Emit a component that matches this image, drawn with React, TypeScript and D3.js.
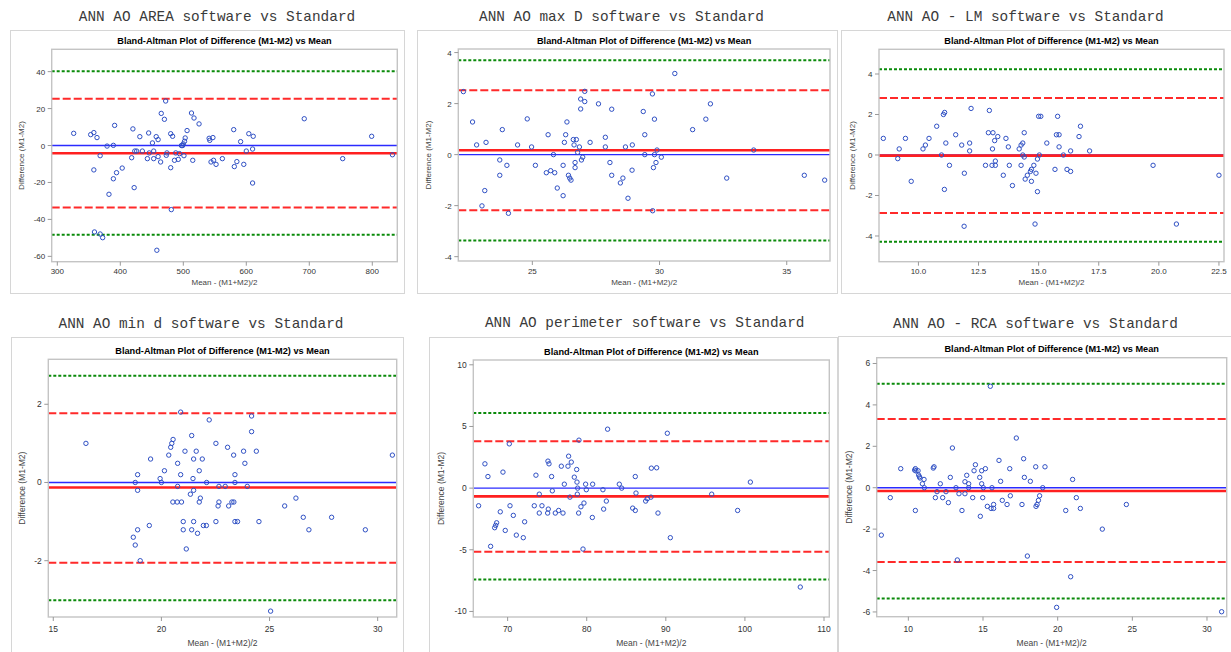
import { useEffect, useRef } from 'react'
import * as d3 from 'd3'

// mean (x) / difference (y) pairs
const areaPoints = [[326,6.6],[353,5.9],[358,7],[363,4.3],[358,-13.2],[368,-5.5],[379,-0.3],[389,0.1],[391,10.9],[389,-18],[394,-14.7],[382,-26.4],[403,-12.2],[359,-46.8],[368,-47.9],[372,-49.9],[418,-6.6],[420,9],[422,-22.8],[423,-3],[426,-3],[431,4.8],[435,-3],[443,-7.1],[445,6.8],[446,-4],[451,1.4],[453,-3],[453,-7.1],[457,4.8],[460,3.2],[460,-6],[464,-8.9],[465,17.4],[470,14.2],[472,24.1],[473,-5.3],[474,-4],[480,6.4],[480,-12],[483,5],[481,-34.7],[486,-8],[488,-4],[492,-7.5],[494,-4.4],[497,0],[499,0],[500,0.9],[501,-5.5],[502,2.3],[503,4.1],[506,8.1],[458,-56.7],[513,17.6],[517,14.9],[515,-8],[525,11.7],[541,3.9],[542,2.8],[547,4.3],[544,-8.9],[548,-8],[552,-10.2],[562,-7.1],[580,8.6],[581,-11.4],[585,-8.7],[591,2.1],[596,-10.2],[600,-3],[604,6.4],[611,5],[610,-1.9],[610,-20.3],[692,14.5],[753,-7.1],[799,5],[832,-5]]
const maxDPoints = [[22.29,2.47],[22.65,1.28],[22.81,0.38],[23.18,0.48],[23.13,-1.41],[23.02,-2.01],[23.72,-0.21],[23.72,-0.81],[23.82,0.98],[24.0,-0.42],[24.06,-2.3],[24.42,0.38],[24.8,1.4],[24.97,0.3],[25.12,-0.42],[25.55,-0.71],[25.62,0.78],[25.72,-0.63],[25.83,0],[25.88,-0.71],[25.98,-1.31],[26.21,-0.42],[26.21,-1.61],[26.26,0.48],[26.31,0.78],[26.36,1.28],[26.42,-0.81],[26.47,-0.92],[26.52,-1.0],[26.61,0.59],[26.64,0.38],[26.68,-0.31],[26.68,-0.51],[26.73,0.59],[26.78,0.09],[26.85,0.3],[26.9,1.79],[26.9,2.18],[26.93,-0.21],[26.98,-0.1],[27.06,2.08],[27.06,2.48],[27.27,0.48],[27.6,1.99],[27.87,0.68],[27.87,0.3],[28.05,-0.31],[28.12,1.78],[28.12,-0.81],[28.46,-1.11],[28.56,-0.92],[28.66,0.3],[28.76,-1.71],[28.93,0.38],[28.92,-0.61],[29.36,1.69],[29.42,0.78],[29.42,0],[29.72,2.38],[29.8,1.39],[29.76,-0.51],[29.73,-2.2],[29.8,0],[29.86,-0.31],[29.9,0.18],[30.07,-0.1],[30.6,3.18],[31.3,0.98],[31.82,1.39],[32.0,1.99],[32.64,-0.92],[33.7,0.18],[35.69,-0.81],[36.49,-1.0]]
const lmPoints = [[8.54,0.82],[9.14,-0.18],[9.2,0.3],[9.46,0.82],[9.7,-1.3],[10.19,0.3],[10.29,0.49],[10.44,0.82],[10.76,1.42],[10.96,0],[11.04,2.0],[11.09,2.1],[11.14,0.59],[11.08,-1.7],[11.29,-0.51],[11.55,1.0],[11.8,0.49],[11.91,-0.9],[11.9,-3.52],[12.13,0.59],[12.13,0.2],[12.19,2.3],[12.79,-0.51],[12.91,1.1],[12.95,2.2],[13.1,1.1],[13.08,0.3],[13.06,-0.51],[13.17,0.71],[13.2,-0.3],[13.2,-0.51],[13.3,0.91],[13.53,-1.0],[13.64,0.82],[13.74,0.4],[13.78,-0.51],[13.91,-1.51],[14.19,0.3],[14.27,-0.51],[14.27,0.49],[14.34,0.59],[14.34,0],[14.4,1.1],[14.4,-0.1],[14.44,-1.19],[14.53,-1.0],[14.66,-0.81],[14.7,-0.71],[14.7,-1.3],[14.8,-0.51],[14.89,-0.9],[14.95,-0.2],[14.95,-1.81],[14.85,-3.41],[15.0,1.91],[15.09,1.91],[15.03,0],[15.34,0.59],[15.68,-0.71],[15.74,1.0],[15.85,1.0],[15.79,1.91],[15.85,0.4],[16.03,0],[16.18,-0.71],[16.33,-0.81],[16.33,0.2],[16.68,0.91],[16.74,1.42],[17.12,0.2],[19.76,-0.51],[20.73,-3.41],[22.5,-1.0]]
const minDPoints = [[16.51,1.0],[18.7,-1.4],[18.79,-1.6],[18.79,0],[18.9,0.2],[18.9,-0.2],[18.9,-1.21],[19.02,-2.0],[19.44,-1.1],[19.5,0.6],[19.94,0.1],[20.0,0],[20.14,0.3],[20.34,0.7],[20.43,0.9],[20.48,1.0],[20.54,1.1],[20.53,-0.5],[20.73,-0.5],[20.75,0.49],[20.75,-0.1],[20.89,1.8],[20.89,0.2],[20.93,-0.5],[21.01,-1.0],[21.01,-1.21],[21.09,0.8],[21.15,-1.7],[21.34,-0.3],[21.4,1.2],[21.4,-1.21],[21.46,0.1],[21.49,0.6],[21.49,-0.2],[21.49,-1.0],[21.61,0.8],[21.67,-1.3],[21.75,0.3],[21.75,-0.5],[21.8,-0.4],[21.89,0.6],[21.94,-1.1],[22.08,-1.1],[22.09,0],[22.21,1.6],[22.52,1.0],[22.52,-1.0],[22.62,-0.6],[22.66,-0.1],[22.66,-0.5],[22.95,-0.1],[23.06,0.9],[23.11,-0.6],[23.26,-0.5],[23.34,0.7],[23.35,-0.5],[23.4,0.2],[23.4,0],[23.4,-1.0],[23.52,-1.0],[23.8,0.8],[23.86,0.49],[23.97,-0.1],[24.17,1.7],[24.17,1.3],[24.39,0.8],[24.51,-1.0],[25.05,-3.29],[25.7,-0.6],[26.22,-0.4],[26.56,-0.89],[26.82,-1.21],[27.87,-0.89],[29.43,-1.21],[30.68,0.7]]
const perimeterPoints = [[66.33,-1.43],[67.13,1.97],[67.51,0.94],[67.85,-4.72],[68.36,-3.21],[68.48,-3.02],[68.61,-2.81],[69.07,-1.92],[69.41,1.3],[69.7,-3.43],[70.21,3.59],[70.3,-1.43],[70.72,-2.21],[71.1,-3.81],[71.98,-4.02],[72.15,-2.73],[73.37,-1.43],[73.58,1.05],[74.0,-0.49],[74.0,-2.02],[74.34,-1.43],[75.1,2.19],[75.23,1.97],[75.14,-1.7],[75.06,-2.02],[75.56,0.94],[75.65,-0.22],[76.03,-2.02],[76.45,-1.81],[76.79,1.78],[77.0,-2.02],[77.17,0.32],[77.71,2.59],[77.63,1.78],[77.88,-0.73],[78.05,2.11],[78.43,0.89],[78.73,1.51],[78.77,0.49],[78.81,-0.49],[78.85,0],[79.02,3.89],[78.98,-2.02],[79.27,-1.51],[79.53,-4.94],[79.65,-1.21],[79.86,0.32],[79.95,-0.13],[80.75,0.32],[80.71,-2.38],[82.05,-0.13],[82.14,-1.7],[82.48,-1.05],[82.64,4.78],[84.12,0.32],[84.42,0],[85.81,-1.62],[86.14,-1.81],[86.14,0.94],[86.23,-0.4],[87.45,-1.05],[87.66,-0.86],[88.12,-0.73],[88.17,1.62],[88.84,1.65],[89.01,-2.02],[90.19,4.45],[90.57,-4.02],[95.8,-0.49],[99.08,-1.81],[100.69,0.49],[107.0,-8.02]]
const rcaPoints = [[8.19,-2.29],[8.79,-0.48],[9.49,0.92],[10.42,0.85],[10.47,0.92],[10.51,0.81],[10.65,0.82],[10.69,0.61],[10.74,0.53],[10.78,0.47],[11.05,0.4],[10.94,0.19],[11.07,0],[10.47,-1.1],[11.67,0.95],[11.72,1.01],[11.81,-0.48],[11.92,-0.19],[12.14,0.19],[12.3,-0.48],[12.52,-0.19],[12.68,-0.72],[12.81,0.5],[12.95,1.92],[13.19,0],[13.28,-3.49],[13.39,-0.29],[13.59,-1.1],[13.79,-0.29],[13.79,0.29],[13.91,0.6],[14.04,0.19],[14.04,0],[14.31,-0.48],[14.4,0.82],[14.49,1.11],[14.78,0.5],[14.82,-1.38],[14.91,0.19],[14.91,0.82],[14.98,-0.48],[15.02,0],[15.16,0.92],[15.29,-0.9],[15.49,4.9],[15.54,-1.0],[15.6,0],[15.71,-0.81],[15.71,-1.0],[16.07,1.32],[16.18,0.31],[16.29,-0.61],[16.61,-0.81],[16.79,0.92],[16.83,-0.39],[17.23,2.4],[17.61,-0.81],[17.72,1.4],[17.77,0.5],[17.97,-3.3],[18.17,0.31],[18.53,1.01],[18.55,-0.9],[18.62,-0.81],[18.71,-0.61],[18.79,-0.39],[19.0,0],[19.15,1.01],[19.93,-5.78],[20.54,-1.1],[21.0,0.4],[20.87,-4.3],[21.25,-0.48],[21.52,-1.0],[22.99,-2.0],[24.6,-0.81],[30.98,-5.99]]

// reference lines: [outer upper, upper limit, mean diff, lower limit, outer lower]
const areaLimits = [40.2, 25.3, -4.2, -33.5, -48.3]
const maxDLimits = [3.7, 2.52, 0.17, -2.18, -3.37]
const lmLimits = [4.24, 2.81, -0.03, -2.86, -4.28]
const minDLimits = [2.73, 1.77, -0.13, -2.05, -3.01]
const perimeterLimits = [6.1, 3.81, -0.67, -5.16, -7.4]
const rcaLimits = [5.02, 3.32, -0.16, -3.59, -5.35]

// axis domains and ticks
const areaX = [291.1, 839.7], areaY = [-62.9, 52.1]
const maxDX = [22.09, 36.7], maxDY = [-4.17, 4.14]
const lmX = [8.36, 22.71], lmY = [-5.27, 5.22]
const minDX = [14.77, 30.88], minDY = [-3.44, 3.15]
const perimeterX = [65.66, 110.67], perimeterY = [-10.45, 10.39]
const rcaX = [7.88, 31.32], rcaY = [-6.23, 6.28]

const areaXTicks = [300, 400, 500, 600, 700, 800], areaYTicks = [-60, -40, -20, 0, 20, 40]
const maxDXTicks = [25, 30, 35], maxDYTicks = [-4, -2, 0, 2, 4]
const lmXTicks = ['10.0', '12.5', '15.0', '17.5', '20.0', '22.5'], lmYTicks = [-4, -2, 0, 2, 4]
const minDXTicks = [15, 20, 25, 30], minDYTicks = [-2, 0, 2]
const perimeterXTicks = [70, 80, 90, 100, 110], perimeterYTicks = [-10, -5, 0, 5, 10]
const rcaXTicks = [10, 15, 20, 25, 30], rcaYTicks = [-6, -4, -2, 0, 2, 4, 6]

const captions = [
  'ANN AO AREA software vs Standard',
  'ANN AO max D software vs Standard',
  'ANN AO - LM software vs Standard',
  'ANN AO min d software vs Standard',
  'ANN AO perimeter software vs Standard',
  'ANN AO - RCA software vs Standard',
]

const panels = [
  { points: areaPoints, limits: areaLimits, xd: areaX, yd: areaY, xt: areaXTicks, yt: areaYTicks,
    frame: [10, 30, 394, 263], plot: [51.7, 49.3, 397.3, 261.7], cap: [217, 21], ylx: 20.7, row: 0 },
  { points: maxDPoints, limits: maxDLimits, xd: maxDX, yd: maxDY, xt: maxDXTicks, yt: maxDYTicks,
    frame: [417, 30, 420, 263], plot: [458.3, 49, 830, 261], cap: [621.5, 21], ylx: 428.3, row: 0 },
  { points: lmPoints, limits: lmLimits, xd: lmX, yd: lmY, xt: lmXTicks, yt: lmYTicks,
    frame: [841, 30, 400, 263], plot: [879, 49.3, 1224, 261.7], cap: [1025.5, 21], ylx: 851.7, row: 0 },
  { points: minDPoints, limits: minDLimits, xd: minDX, yd: minDY, xt: minDXTicks, yt: minDYTicks,
    frame: [11, 337, 392, 330], plot: [48.3, 359.3, 396.7, 617], cap: [201, 328], ylx: 21.7, row: 1 },
  { points: perimeterPoints, limits: perimeterLimits, xd: perimeterX, yd: perimeterY, xt: perimeterXTicks, yt: perimeterYTicks,
    frame: [429, 337, 408, 330], plot: [473.3, 360, 829.3, 617], cap: [644.7, 327], ylx: 440.7, row: 1 },
  { points: rcaPoints, limits: rcaLimits, xd: rcaX, yd: rcaY, xt: rcaXTicks, yt: rcaYTicks,
    frame: [838, 336, 400, 330], plot: [876.7, 357.7, 1226.7, 616.7], cap: [1035.5, 328], ylx: 849.3, row: 1 },
]

export default function App() {
  const ref = useRef(null)

  useEffect(() => {
    const svg = d3.select(ref.current)
    svg.selectAll('*').remove()
    svg.append('rect').attr('width', 1231).attr('height', 652).attr('fill', '#ffffff')

    panels.forEach((p, i) => {
      const [l, t, r, b] = p.plot
      const x = d3.scaleLinear().domain(p.xd).range([l, r])
      const y = d3.scaleLinear().domain(p.yd).range([b, t])
      const tickOff = p.row ? 15 : 12.5
      const labOff = p.row ? 29 : 23.5
      const fs = p.row ? 8.5 : 8

      svg.append('text')
        .attr('x', p.cap[0]).attr('y', p.cap[1])
        .attr('text-anchor', 'middle')
        .attr('font-family', '"Liberation Mono", "Courier New", monospace')
        .attr('font-size', 14.4)
        .attr('fill', '#3a3a3a')
        .text(captions[i])

      svg.append('rect')
        .attr('x', p.frame[0] + 0.5).attr('y', p.frame[1] + 0.5)
        .attr('width', p.frame[2]).attr('height', p.frame[3])
        .attr('fill', '#fff').attr('stroke', '#d6d6d6').attr('stroke-width', 1)

      const g = svg.append('g')

      g.append('text')
        .attr('x', (l + r) / 2).attr('y', t - 5.3)
        .attr('text-anchor', 'middle')
        .attr('font-family', '"Liberation Sans", Arial, sans-serif')
        .attr('font-weight', 'bold')
        .attr('font-size', 9.2)
        .attr('fill', '#000')
        .text('Bland-Altman Plot of Difference (M1-M2) vs Mean')

      // reference lines
      const hline = (v, color, width, dash) => {
        g.append('line')
          .attr('x1', l).attr('x2', r)
          .attr('y1', y(v)).attr('y2', y(v))
          .attr('stroke', color).attr('stroke-width', width)
          .attr('stroke-dasharray', dash)
      }
      hline(p.limits[0], '#0a8a0a', 2, '3,2')
      hline(p.limits[4], '#0a8a0a', 2, '3,2')
      hline(p.limits[1], '#ff2a2a', 2, '8,3')
      hline(p.limits[3], '#ff2a2a', 2, '8,3')
      hline(0, '#2b2bff', 1.4, null)
      hline(p.limits[2], '#ff2020', 2.6, null)

      g.selectAll('circle.pt')
        .data(p.points)
        .enter()
        .append('circle')
        .attr('class', 'pt')
        .attr('cx', d => x(d[0]))
        .attr('cy', d => y(d[1]))
        .attr('r', 2.2)
        .attr('fill', 'none')
        .attr('stroke', '#2f50c4')
        .attr('stroke-width', 1)

      // plot border
      g.append('rect')
        .attr('x', l).attr('y', t)
        .attr('width', r - l).attr('height', b - t)
        .attr('fill', 'none').attr('stroke', '#c4c4c4').attr('stroke-width', 1.4)

      const tickFont = '"Liberation Sans", Arial, sans-serif'
      p.xt.forEach(v => {
        const px = x(+v)
        g.append('line').attr('x1', px).attr('x2', px).attr('y1', b).attr('y2', b + 4)
          .attr('stroke', '#999').attr('stroke-width', 1)
        g.append('text').attr('x', px).attr('y', b + tickOff)
          .attr('text-anchor', 'middle').attr('font-family', tickFont).attr('font-size', fs)
          .attr('fill', '#333').text(String(v))
      })
      p.yt.forEach(v => {
        const py = y(v)
        g.append('line').attr('x1', l - 4).attr('x2', l).attr('y1', py).attr('y2', py)
          .attr('stroke', '#999').attr('stroke-width', 1)
        g.append('text').attr('x', l - 6.5).attr('y', py + 3)
          .attr('text-anchor', 'end').attr('font-family', tickFont).attr('font-size', fs)
          .attr('fill', '#333').text(String(v))
      })

      g.append('text')
        .attr('x', (l + r) / 2).attr('y', b + labOff)
        .attr('text-anchor', 'middle').attr('font-family', tickFont).attr('font-size', fs)
        .attr('fill', '#444').text('Mean - (M1+M2)/2')

      g.append('text')
        .attr('transform', `translate(${p.ylx + 3},${(t + b) / 2}) rotate(-90)`)
        .attr('text-anchor', 'middle').attr('font-family', tickFont).attr('font-size', fs)
        .attr('fill', '#444').text('Difference (M1-M2)')
    })
  }, [])

  return (
    <svg ref={ref} width={1231} height={652}
      style={{ position: 'absolute', left: 0, top: 0, display: 'block' }} />
  )
}
